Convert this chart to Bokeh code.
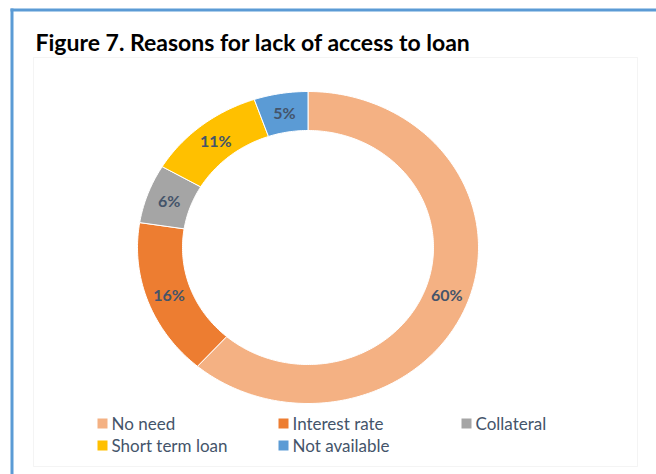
import math
from bokeh.plotting import figure
from bokeh.models import Range1d, ColumnDataSource, Label, BoxAnnotation
from bokeh.core.properties import value
from bokeh.embed import file_html
from bokeh.resources import INLINE

# ---- data ----
categories = ["No need", "Interest rate", "Collateral", "Short term loan", "Not available"]
percents = [60, 16, 6, 11, 5]
colors = ["#F4B183", "#ED7D31", "#A5A5A5", "#FFC000", "#5B9BD5"]
title_text = "Figure 7. Reasons for lack of access to loan"

# ---- layout (pixel-like data space, y downwards) ----
W, H = 656, 474
cx, cy = 307.5, 247.0
rx_out, ry_out = 170.5, 156.0
rx_in, ry_in = 125.5, 117.0

p = figure(width=W, height=H, x_range=Range1d(0, W), y_range=Range1d(H, 0),
           x_axis_type=None, y_axis_type=None, output_backend="svg",
           toolbar_location=None, min_border=0)
p.grid.visible = False
p.outline_line_color = None
p.background_fill_color = "white"
p.border_fill_color = "white"

# frame decorations
p.add_layout(BoxAnnotation(left=10, right=13, top=8, bottom=474, fill_color="#5B9BD5",
                           fill_alpha=1, line_color=None))
p.add_layout(BoxAnnotation(left=10, right=656, top=8, bottom=11, fill_color="#5B9BD5",
                           fill_alpha=1, line_color=None))
p.add_layout(BoxAnnotation(left=33, right=637, top=57, bottom=466, fill_color=None,
                           line_color="#D9D9D9", line_width=1))

# donut wedges
total = float(sum(percents))
xs, ys, lx, ly, labels = [], [], [], [], []
start = 90.0
for v in percents:
    sweep = 360.0 * v / total
    end = start - sweep
    n = max(8, int(sweep))
    angs = [math.radians(start + (end - start) * k / n) for k in range(n + 1)]
    ox = [cx + rx_out * math.cos(a) for a in angs]
    oy = [cy - ry_out * math.sin(a) for a in angs]
    ix = [cx + rx_in * math.cos(a) for a in reversed(angs)]
    iy = [cy - ry_in * math.sin(a) for a in reversed(angs)]
    xs.append(ox + ix)
    ys.append(oy + iy)
    mid = math.radians((start + end) / 2)
    lx.append(cx + (rx_out + rx_in) / 2 * math.cos(mid))
    ly.append(cy - (ry_out + ry_in) / 2 * math.sin(mid))
    labels.append(f"{v}%")
    start = end

src = ColumnDataSource(dict(xs=xs, ys=ys, color=colors, cat=categories))
p.patches("xs", "ys", source=src, fill_color="color", line_color="white", line_width=1)

lsrc = ColumnDataSource(dict(x=lx, y=ly, text=labels))
p.text("x", "y", text="text", source=lsrc, text_font=value("Lato"), text_font_style="bold",
       text_font_size="16px", text_color="#44546A", text_align="center",
       text_baseline="middle")

# title
p.add_layout(Label(x=35, y=41, text=title_text, text_font="Lato", text_font_style="bold",
                   text_font_size="23px", text_color="#000000", text_baseline="middle"))

# legend (manual, 3 columns)
col_x = [97, 278, 461]
row_y = [423, 445]
gx, gy, tx = [], [], []
for i, c in enumerate(categories):
    gx.append(col_x[i % 3] + 5)
    gy.append(row_y[i // 3])
    tx.append(col_x[i % 3] + 14)
gsrc = ColumnDataSource(dict(x=gx, y=gy, tx=tx, color=colors, text=categories))
p.rect("x", "y", width=10, height=10, source=gsrc, fill_color="color", line_color=None)
p.text("tx", "y", text="text", source=gsrc, text_font=value("Lato"), text_font_size="17px",
       text_color="#44546A", text_baseline="middle")

open("out.html", "w").write(file_html(p, INLINE))
